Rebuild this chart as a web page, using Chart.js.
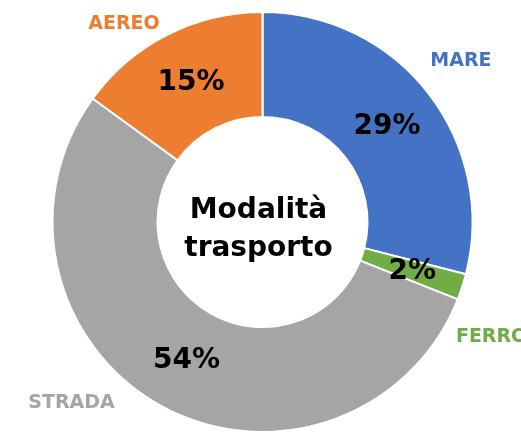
<!DOCTYPE html>
<html>
<head>
<meta charset="utf-8">
<script src="https://cdn.jsdelivr.net/npm/chart.js@4"></script>
<style>
html,body{margin:0;padding:0;background:#fff;}
canvas{display:block;}
</style>
</head>
<body>
<canvas id="c" width="521" height="433"></canvas>
<script>
const categories = ['MARE', 'FERRO', 'STRADA', 'AEREO'];
const shares = [29, 2, 54, 15];
const colors = ['#4472C4', '#70AD47', '#A5A5A5', '#ED7D31'];
const centerLines = ['Modalità', 'trasporto'];

const FONT = '"DejaVu Sans", sans-serif';

// placement of category names: angle (deg clockwise from top) and distance as fraction of outer radius
const namePlacement = [
  {angle: 51, dist: 1.216},
  {angle: 116.6, dist: 1.22},
  {angle: 226.6, dist: 1.252},
  {angle: 325, dist: 1.15}
];

const labelsPlugin = {
  id: 'labels',
  afterDatasetsDraw(chart) {
    const ctx = chart.ctx;
    const meta = chart.getDatasetMeta(0);
    const ds = chart.data.datasets[0];
    ctx.save();
    ctx.textAlign = 'center';
    ctx.textBaseline = 'middle';
    let cx = 0, cy = 0, R = 0;
    meta.data.forEach((arc, i) => {
      const p = arc.tooltipPosition();
      ctx.fillStyle = '#000';
      ctx.font = 'bold 28px ' + FONT;
      ctx.fillText(ds.data[i] + '%', p.x, p.y + 1);
      cx = arc.x; cy = arc.y; R = arc.outerRadius;
    });
    // category names
    ctx.font = 'bold 19px ' + FONT;
    chart.data.labels.forEach((lab, i) => {
      const pl = namePlacement[i];
      const a = pl.angle * Math.PI / 180;
      const x = cx + Math.sin(a) * R * pl.dist;
      const y = cy - Math.cos(a) * R * pl.dist;
      ctx.fillStyle = colors[i];
      ctx.fillText(lab, x, y);
    });
    // center text
    ctx.fillStyle = '#000';
    ctx.font = 'bold 28px ' + FONT;
    ctx.textBaseline = 'alphabetic';
    ctx.fillText(centerLines[0], cx - 4, cy - 4);
    ctx.fillText(centerLines[1], cx - 4, cy + 34);
    ctx.restore();
  }
};

new Chart(document.getElementById('c'), {
  type: 'doughnut',
  data: {
    labels: categories,
    datasets: [{
      data: shares,
      backgroundColor: colors,
      borderColor: '#ffffff',
      borderWidth: 2
    }]
  },
  options: {
    responsive: false,
    devicePixelRatio: 1,
    animation: false,
    cutout: '50%',
    layout: {padding: {top: 11, bottom: -2, left: 51, right: 47}},
    plugins: {legend: {display: false}, tooltip: {enabled: false}}
  },
  plugins: [labelsPlugin]
});
</script>
</body>
</html>
